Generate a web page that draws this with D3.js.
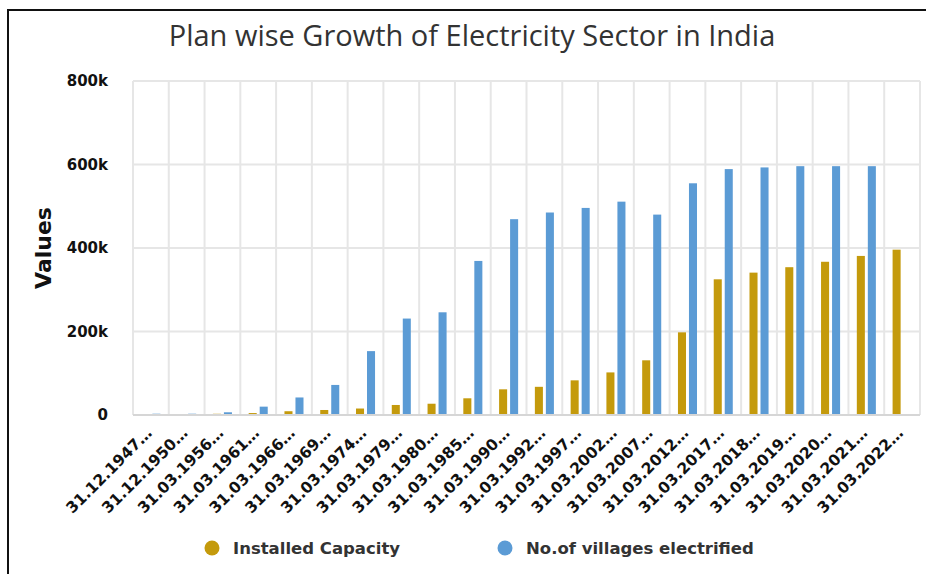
<!DOCTYPE html>
<html>
<head>
<meta charset="utf-8">
<script src="https://cdn.jsdelivr.net/npm/d3@7"></script>
<style>
  html, body { margin: 0; padding: 0; background: #fff; }
  svg { display: block; font-family: "Open Sans", "DejaVu Sans", sans-serif; }
</style>
</head>
<body>
<svg id="chart" width="926" height="574"></svg>
<script>
// Plan periods (labels shortened with an ellipsis)
const categories = [
  "31.12.1947…", "31.12.1950…", "31.03.1956…", "31.03.1961…", "31.03.1966…",
  "31.03.1969…", "31.03.1974…", "31.03.1979…", "31.03.1980…", "31.03.1985…",
  "31.03.1990…", "31.03.1992…", "31.03.1997…", "31.03.2002…", "31.03.2007…",
  "31.03.2012…", "31.03.2017…", "31.03.2018…", "31.03.2019…", "31.03.2020…",
  "31.03.2021…", "31.03.2022…"
];

// Installed capacity (MW)
const installedCapacity = [
  1362, 1713, 2886, 4653, 9027, 12000, 15500, 24000, 27000, 40000,
  61500, 67500, 83000, 102000, 131000, 198000, 325000, 341000, 354000, 367000,
  381000, 396000
];

// Number of villages electrified
const villagesElectrified = [
  3061, 3061, 6500, 20000, 42000, 72000, 153000, 231000, 246000, 369000,
  469000, 485000, 496000, 511000, 480000, 555000, 589000, 593000, 596000, 596000,
  596000, null
];

const seriesNames = ["Installed Capacity", "No.of villages electrified"];
const seriesColors = ["#C49A0C", "#5B9BD5"];
const yTicks = [0, 200000, 400000, 600000, 800000];

const boldFont = "'DejaVu Sans', sans-serif";

const svg = d3.select("#chart");
const W = 926, H = 574;
const margin = { left: 133, right: 6, top: 81, bottom: 159 };
const plotW = W - margin.left - margin.right;
const plotH = H - margin.top - margin.bottom;

// outer frame
svg.append("path")
  .attr("d", `M8,${H} L8,10 L${W},10`)
  .attr("fill", "none").attr("stroke", "#111").attr("stroke-width", 2);

// title
svg.append("text")
  .attr("x", 472).attr("y", 46)
  .attr("text-anchor", "middle")
  .attr("font-family", "'Open Sans', sans-serif")
  .attr("font-size", 29)
  .attr("fill", "#333")
  .text("Plan wise Growth of Electricity Sector in India");

const g = svg.append("g").attr("transform", `translate(${margin.left},${margin.top})`);

const x0 = d3.scaleBand().domain(categories).range([0, plotW]).paddingInner(0).paddingOuter(0);
const x1 = d3.scaleBand().domain([0, 1]).range([0, x0.bandwidth()])
  .paddingInner(0.27).paddingOuter(0.76);
const y = d3.scaleLinear().domain([0, 800000]).range([plotH, 0]);

// horizontal grid
g.append("g").selectAll("line").data(yTicks).join("line")
  .attr("x1", 0).attr("x2", plotW)
  .attr("y1", d => y(d)).attr("y2", d => y(d))
  .attr("stroke", "#e6e6e6").attr("stroke-width", 2);

// vertical grid at band edges
const edges = categories.map(c => x0(c)).concat([plotW]);
g.append("g").selectAll("line").data(edges).join("line")
  .attr("x1", d => d).attr("x2", d => d)
  .attr("y1", 0).attr("y2", plotH)
  .attr("stroke", "#e6e6e6").attr("stroke-width", 2);

// bars
const rows = categories.map((c, i) => ({ c, vals: [installedCapacity[i], villagesElectrified[i]] }));
const groups = g.append("g").selectAll("g").data(rows).join("g")
  .attr("transform", d => `translate(${x0(d.c)},0)`);
groups.selectAll("rect")
  .data(d => d.vals.map((v, k) => ({ v, k })).filter(e => e.v != null))
  .join("rect")
  .attr("x", e => x1(e.k))
  .attr("width", x1.bandwidth())
  .attr("y", e => y(e.v))
  .attr("height", e => plotH - y(e.v))
  .attr("fill", e => seriesColors[e.k]);

// baseline
g.append("line")
  .attr("x1", 0).attr("x2", plotW).attr("y1", plotH).attr("y2", plotH)
  .attr("stroke", "#d6d6d6").attr("stroke-width", 2);

// y axis labels
const yAxis = g.append("g").call(d3.axisLeft(y).tickValues(yTicks)
  .tickFormat(d => d === 0 ? "0" : d3.format("d")(d / 1000) + "k").tickSize(0).tickPadding(25));
yAxis.select(".domain").remove();
yAxis.selectAll("text")
  .attr("font-family", boldFont)
  .attr("font-size", 15).attr("font-weight", "bold").attr("fill", "#111");

// y axis title
svg.append("text")
  .attr("transform", "translate(51,248) rotate(-90)")
  .attr("text-anchor", "middle")
  .attr("font-family", boldFont)
  .attr("font-size", 22).attr("font-weight", "bold").attr("fill", "#111")
  .text("Values");

// x axis labels
const xAxis = g.append("g").attr("transform", `translate(0,${plotH})`)
  .call(d3.axisBottom(x0).tickSize(0).tickPadding(0));
xAxis.select(".domain").remove();
xAxis.selectAll("text")
  .attr("font-family", boldFont)
  .attr("font-size", 15.5).attr("font-weight", "bold").attr("fill", "#111")
  .attr("text-anchor", "end")
  .attr("dy", 0)
  .attr("transform", "translate(2,19) rotate(-45)");

// legend
const legend = svg.append("g");
const legendX = [212, 505];
seriesNames.forEach((name, k) => {
  legend.append("circle")
    .attr("cx", legendX[k]).attr("cy", 548).attr("r", 7.5)
    .attr("fill", seriesColors[k]);
  legend.append("text")
    .attr("x", legendX[k] + 21).attr("y", 554)
    .attr("font-family", boldFont)
    .attr("font-size", 16.5).attr("font-weight", "bold").attr("fill", "#333")
    .text(name);
});
</script>
</body>
</html>
